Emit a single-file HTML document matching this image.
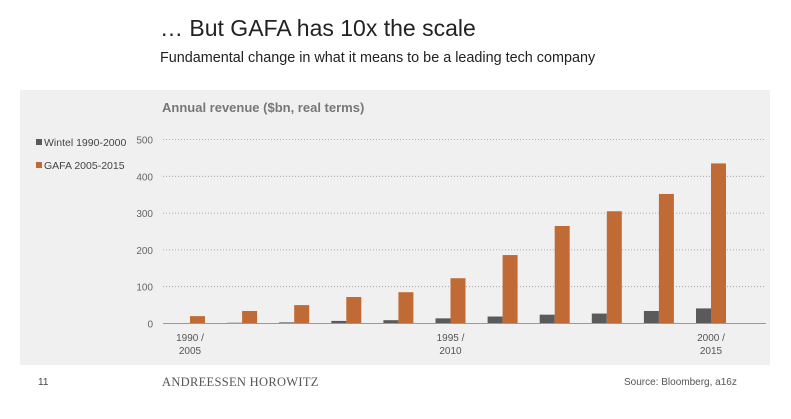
<!DOCTYPE html>
<html><head><meta charset="utf-8"><style>
body{margin:0;width:791px;height:419px;background:#fff;font-family:"Liberation Sans",sans-serif;position:relative;overflow:hidden}
.t{position:absolute;white-space:nowrap}
</style></head><body>
<div class="t" style="left:160px;top:15px;font-size:23px;color:#222">… But GAFA has 10x the scale</div>
<div class="t" style="left:160px;top:50px;font-size:14.4px;color:#222">Fundamental change in what it means to be a leading tech company</div>
<div style="position:absolute;left:20px;top:90px;width:750px;height:275px;background:#f0f0f0"></div>
<svg id="c" width="791" height="419" style="position:absolute;left:0;top:0"></svg>
<div class="t" style="left:38px;top:377px;font-size:10px;color:#444">11</div>
<div class="t" style="left:162px;top:375px;font-size:12.5px;letter-spacing:0.3px;color:#555;font-family:'Liberation Serif',serif">ANDREESSEN HOROWITZ</div>
<div class="t" style="left:624px;top:377px;font-size:10px;color:#555">Source: Bloomberg, a16z</div>
<script>
const categories=["1990 / 2005","","","","","1995 / 2010","","","","","2000 / 2015"];
const wintel=[1,2,3,7,9,14,19,24,27,34,41];
const gafa=[20,34,50,72,85,123,186,265,305,352,435];
const yTicks=[0,100,200,300,400,500];
const svg=document.getElementById('c');const NS='http://www.w3.org/2000/svg';
function y(v){return 323.5-v*0.368;}
function x(i){return 190+i*52.1;}
function add(tag,attrs,name,text){const e=document.createElementNS(NS,tag);for(const k in attrs)e.setAttribute(k,attrs[k]);

if(text!=null)e.textContent=text;svg.appendChild(e);return e;}
add('text',{x:162,y:112,'font-size':13,'font-weight':'bold',fill:'#777'},'chart-title','Annual revenue ($bn, real terms)');
yTicks.forEach(t=>{if(t>0)add('line',{x1:163,x2:766,y1:y(t),y2:y(t),stroke:'#999','stroke-dasharray':'1 2','stroke-width':0.8},'gridline');
add('text',{x:153,y:y(t)+4,'font-size':10,fill:'#666','text-anchor':'end'},'y-tick-label',t);});
categories.forEach((c,i)=>{
add('rect',{x:x(i)-15,y:y(wintel[i]),width:15,height:323.5-y(wintel[i]),fill:'#5a5a5a'},'bar-wintel');
add('rect',{x:x(i),y:y(gafa[i]),width:15,height:323.5-y(gafa[i]),fill:'#c06b35'},'bar-gafa');
if(c){const p=c.split(' / ');const cx=x(i);
add('text',{x:cx,y:341,'font-size':10,fill:'#555','text-anchor':'middle'},'x-tick-label',p[0]+' /');
add('text',{x:cx,y:354,'font-size':10,fill:'#555','text-anchor':'middle'},'x-tick-label',p[1]);}
});
add('line',{x1:163,x2:766,y1:323.5,y2:323.5,stroke:'#999','stroke-width':1},'x-axis');
add('rect',{x:36,y:139,width:6,height:6,fill:'#5a5a5a'},'legend-swatch-wintel');
add('text',{x:44,y:146,'font-size':10.5,fill:'#444'},'legend-wintel','Wintel 1990-2000');
add('rect',{x:36,y:162,width:6,height:6,fill:'#c06b35'},'legend-swatch-gafa');
add('text',{x:44,y:169,'font-size':10.5,fill:'#444'},'legend-gafa','GAFA 2005-2015');
</script>
</body></html>
